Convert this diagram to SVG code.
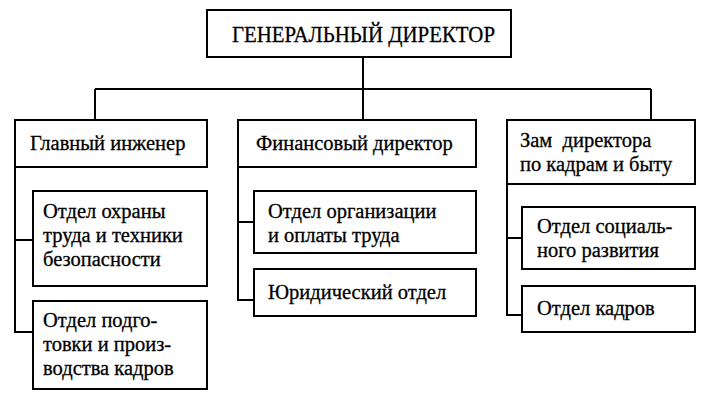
<svg xmlns="http://www.w3.org/2000/svg" width="705" height="404" viewBox="0 0 705 404">
<style>
.box{fill:#fff;stroke:#000;stroke-width:2}
.ln{fill:none;stroke:#000;stroke-width:2}
.t{font-family:"Liberation Serif","Times New Roman",serif;font-size:20.5px;fill:#000;stroke:#000;stroke-width:0.3}
.title{font-size:23.5px}
</style>
<rect width="705" height="404" fill="#fff"/>
<g id="connectors">
<path class="ln" d="M363,57 V89 M95,89 H651 M95,89 V120 M363,89 V120 M651,89 V120"/>
<path class="ln" d="M15,167 V332 H33 M15,240 H33"/>
<path class="ln" d="M238,167 V300 H254 M238,222 H254"/>
<path class="ln" d="M507,184 V315 H522 M507,238 H522"/>
</g>
<g id="gen-director">
<rect class="box" x="207" y="10" width="304" height="47"/>
<text class="t title" x="232" y="42" textLength="263" lengthAdjust="spacingAndGlyphs">ГЕНЕРАЛЬНЫЙ ДИРЕКТОР</text>
</g>
<g id="chief-engineer">
<rect class="box" x="15" y="120" width="192" height="47"/>
<text class="t" x="30" y="150">Главный инженер</text>
</g>
<g id="fin-director">
<rect class="box" x="238" y="120" width="238" height="47"/>
<text class="t" x="256" y="150">Финансовый директор</text>
</g>
<g id="deputy-director">
<rect class="box" x="507" y="120" width="188" height="64"/>
<text class="t" x="520" y="147" xml:space="preserve">Зам  директора</text>
<text class="t" x="520" y="171">по кадрам и быту</text>
</g>
<g id="safety-dept">
<rect class="box" x="33" y="191" width="174" height="95"/>
<text class="t" x="43" y="218">Отдел охраны</text>
<text class="t" x="43" y="242">труда и техники</text>
<text class="t" x="43" y="266">безопасности</text>
</g>
<g id="training-dept">
<rect class="box" x="33" y="301" width="174" height="88"/>
<text class="t" x="43" y="327">Отдел подго-</text>
<text class="t" x="43" y="351">товки и произ-</text>
<text class="t" x="43" y="375">водства кадров</text>
</g>
<g id="labour-dept">
<rect class="box" x="254" y="191" width="222" height="62"/>
<text class="t" x="268" y="218">Отдел организации</text>
<text class="t" x="268" y="242">и оплаты труда</text>
</g>
<g id="legal-dept">
<rect class="box" x="254" y="269" width="222" height="47"/>
<text class="t" x="268" y="299">Юридический отдел</text>
</g>
<g id="social-dept">
<rect class="box" x="522" y="207" width="173" height="62"/>
<text class="t" x="537" y="233">Отдел социаль-</text>
<text class="t" x="537" y="257">ного развития</text>
</g>
<g id="hr-dept">
<rect class="box" x="522" y="286" width="173" height="46"/>
<text class="t" x="537" y="315">Отдел кадров</text>
</g>
</svg>
